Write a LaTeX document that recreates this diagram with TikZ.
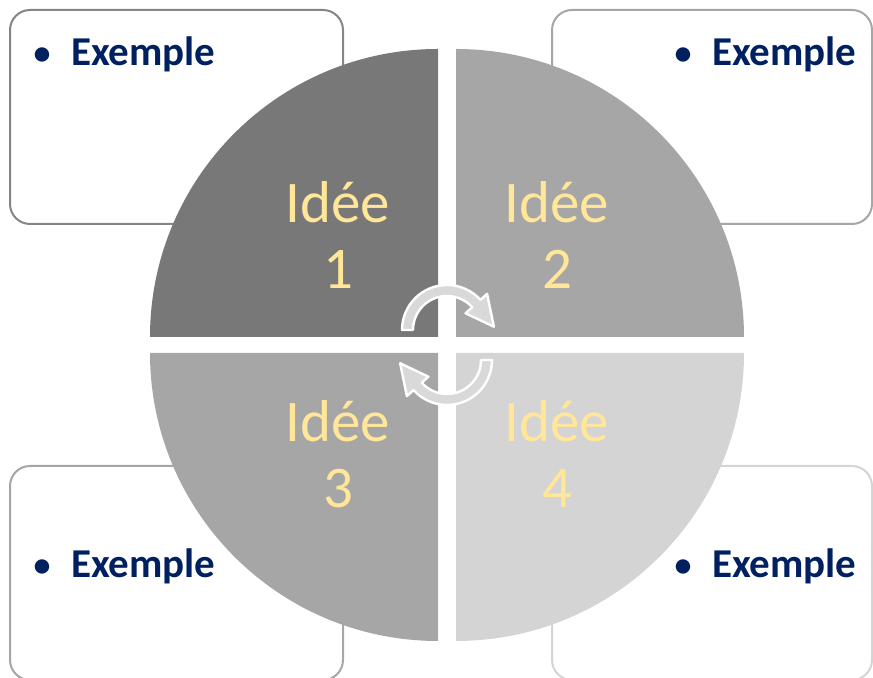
\documentclass[tikz,border=0pt]{standalone}
\usepackage{fontspec}
\setmainfont{Carlito}
\usetikzlibrary{calc}

\definecolor{navy}{HTML}{002060}
\definecolor{gold}{HTML}{FFE699}
\definecolor{dark}{HTML}{787878}
\definecolor{mid}{HTML}{A6A6A6}
\definecolor{light}{HTML}{D4D4D4}
\definecolor{swirlgray}{HTML}{D9D9D9}

\newcommand{\dotitem}{\raisebox{0.9pt}{\fontsize{17}{20}\selectfont•}\hspace{0.5em}}

\begin{document}
\begin{tikzpicture}[
    x=0.5pt, y=0.5pt,
    note/.style={rectangle, draw, rounded corners=10pt, line width=1pt, fill=white},
    example/.style={anchor=base east, text=navy, inner sep=0pt, font=\fontsize{20.5}{24}\selectfont\bfseries},
    idea/.style={align=center, text=gold, inner sep=0pt, font=\fontsize{29.5}{33}\selectfont},
    swirl/.style={fill=swirlgray, draw=white, line width=1.2pt, line join=round}
]
\useasboundingbox (0,0) rectangle (873,678);
\clip (0,0) rectangle (873,678);

% Example boxes
\node [note, draw=dark!90, minimum width=166.5pt, minimum height=107pt] (box1) at (176.5,561) {};
\node [note, draw=mid, minimum width=160pt, minimum height=107pt] (box2) at (712,561) {};
\node [note, draw=mid, minimum width=166.5pt, minimum height=107pt] (box3) at (176.5,105) {};
\node [note, draw=light, minimum width=160pt, minimum height=107pt] (box4) at (712,105) {};

\node [example] (ex1) at (216,612) {\dotitem Exemple};
\node [example] (ex2) at (857,612) {\dotitem Exemple};
\node [example] (ex3) at (216,100) {\dotitem Exemple};
\node [example] (ex4) at (857,100) {\dotitem Exemple};

% Circle quarters
\fill [dark]  (438,341) -- ++(-288,0) arc[start angle=180, end angle=90, radius=288] -- cycle;
\fill [mid]   (456,341) -- ++(0,288) arc[start angle=90, end angle=0, radius=288] -- cycle;
\fill [mid]   (438,325) -- ++(-288,0) arc[start angle=180, end angle=270, radius=288] -- cycle;
\fill [light] (456,325) -- ++(288,0) arc[start angle=0, end angle=-90, radius=288] -- cycle;

% Cycle arrows
\coordinate (top) at (447,348);
\coordinate (bot) at (447,318);
\path [swirl] ($(top)+(180:45)$) arc[start angle=180, end angle=42, radius=45]
    -- ($(top)+(42:54)$) -- ($(top)+(4:47)$) -- ($(top)+(42:25)$) -- ($(top)+(42:34)$)
    arc[start angle=42, end angle=180, radius=34] -- cycle;
\path [swirl] ($(bot)+(0:45)$) arc[start angle=0, end angle=-138, radius=45]
    -- ($(bot)+(222:54)$) -- ($(bot)+(184:47)$) -- ($(bot)+(222:25)$) -- ($(bot)+(222:34)$)
    arc[start angle=-138, end angle=0, radius=34] -- cycle;

% Ideas
\node [idea] (idea1) at (338,443) {Idée\\1};
\node [idea] (idea2) at (557,443) {Idée\\2};
\node [idea] (idea3) at (338,224) {Idée\\3};
\node [idea] (idea4) at (557,224) {Idée\\4};

\end{tikzpicture}
\end{document}
